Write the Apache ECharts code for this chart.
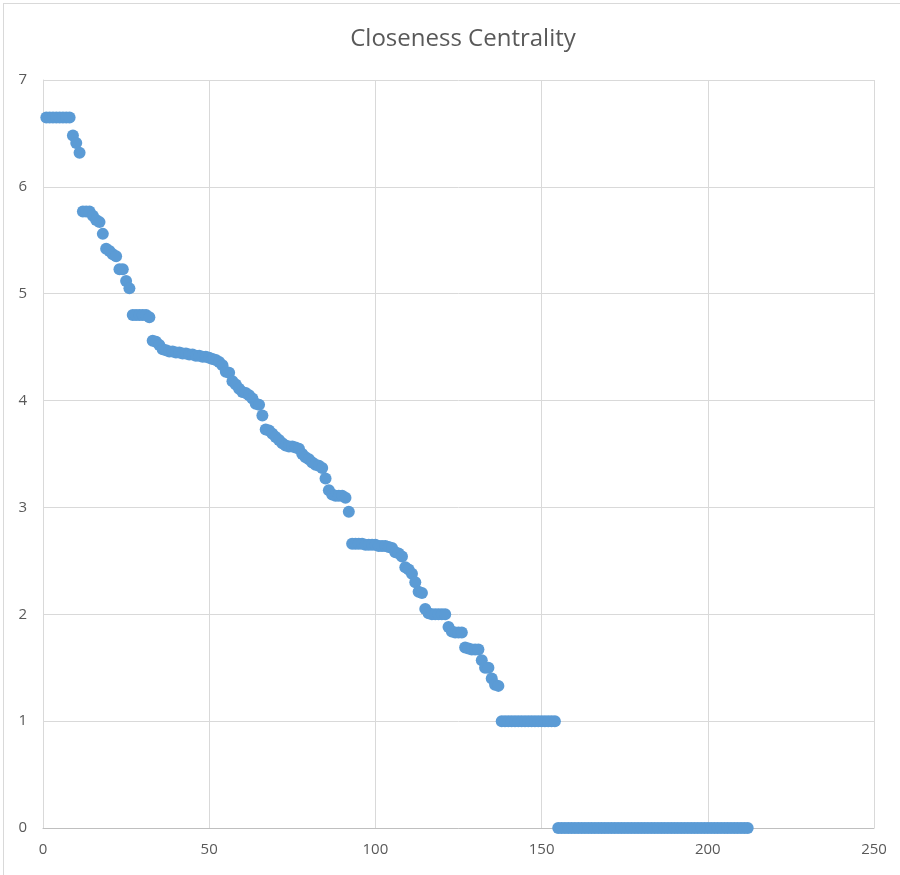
<!DOCTYPE html>
<html>
<head>
<meta charset="utf-8">
<script src="https://cdn.jsdelivr.net/npm/echarts@6/dist/echarts.min.js"></script>
<style>
    body { margin: 0; background: #fff; }
    #frame {
        position: absolute; left: 3px; top: 3px;
        width: 897px; height: 872px;
        border-left: 1px solid #d9d9d9; border-top: 1px solid #d9d9d9;
    }
    #chart { position: absolute; left: 0; top: 0; width: 900px; height: 875px; }
</style>
</head>
<body>
<div id="frame"></div>
<div id="chart"></div>
<script>
// closeness centrality, sorted, node rank 1..212
var closeness = [
    6.65, 6.65, 6.65, 6.65, 6.65, 6.65, 6.65, 6.65,
    6.48, 6.41, 6.32,
    5.77, 5.77, 5.77, 5.73, 5.69, 5.67, 5.56,
    5.42, 5.40, 5.37, 5.35,
    5.23, 5.23, 5.12, 5.05,
    4.80, 4.80, 4.80, 4.80, 4.80, 4.78,
    4.56, 4.55, 4.52, 4.48, 4.47, 4.46, 4.46, 4.45, 4.45, 4.44,
    4.44, 4.43, 4.43, 4.42, 4.42, 4.41, 4.41, 4.40, 4.39, 4.38,
    4.36, 4.33, 4.27, 4.26, 4.18, 4.15, 4.11, 4.08, 4.07, 4.05,
    4.02, 3.97, 3.96, 3.86,
    3.73, 3.72, 3.69, 3.66, 3.63, 3.60, 3.58, 3.57, 3.57, 3.56,
    3.55, 3.50, 3.47, 3.45, 3.42, 3.40, 3.39, 3.37, 3.27, 3.16,
    3.12, 3.11, 3.11, 3.11, 3.09, 2.96,
    2.66, 2.66, 2.66, 2.66, 2.65, 2.65, 2.65, 2.65, 2.64, 2.64,
    2.64, 2.63,
    2.62, 2.58, 2.57, 2.54, 2.44, 2.42, 2.38, 2.30, 2.21, 2.20,
    2.05, 2.01, 2.00, 2.00, 2.00, 2.00, 2.00, 1.88, 1.84, 1.83,
    1.83, 1.83,
    1.69, 1.68, 1.67, 1.67, 1.67, 1.57, 1.50, 1.50, 1.40, 1.34,
    1.33,
    1, 1, 1, 1, 1, 1, 1, 1, 1, 1, 1, 1, 1, 1, 1, 1, 1,
    0, 0, 0, 0, 0, 0, 0, 0, 0, 0, 0, 0, 0, 0, 0, 0, 0, 0, 0, 0,
    0, 0, 0, 0, 0, 0, 0, 0, 0, 0, 0, 0, 0, 0, 0, 0, 0, 0, 0, 0,
    0, 0, 0, 0, 0, 0, 0, 0, 0, 0, 0, 0, 0, 0, 0, 0, 0, 0
];
var xTicks = [0, 50, 100, 150, 200, 250];
var yTicks = [0, 1, 2, 3, 4, 5, 6, 7];

var points = [];
for (var i = 0; i < closeness.length; i++) {
    points.push([i + 1, closeness[i]]);
}

var textColor = '#595959';
var gridColor = '#d9d9d9';

var option = {
    animation: false,
    title: {
        text: 'Closeness Centrality',
        left: 458,
        top: 22,
        textAlign: 'center',
        textStyle: { fontFamily: 'Open Sans', fontSize: 24, fontWeight: 'normal', color: textColor }
    },
    grid: { left: 43, right: 26, top: 80, bottom: 47 },
    xAxis: {
        type: 'value',
        min: xTicks[0],
        max: xTicks[xTicks.length - 1],
        interval: 50,
        axisLine: { show: true, onZero: false, lineStyle: { color: '#bfbfbf', width: 1 } },
        axisTick: { show: false },
        axisLabel: { color: textColor, fontFamily: 'Open Sans', fontSize: 15, margin: 14 },
        splitLine: { show: true, lineStyle: { color: gridColor, width: 1 } }
    },
    yAxis: {
        type: 'value',
        min: yTicks[0],
        max: yTicks[yTicks.length - 1],
        interval: 1,
        axisLine: { show: true, lineStyle: { color: gridColor, width: 1 } },
        axisTick: { show: false },
        axisLabel: { color: textColor, fontFamily: 'Open Sans', fontSize: 15, margin: 16 },
        splitLine: { show: true, lineStyle: { color: gridColor, width: 1 } }
    },
    series: [
        {
            type: 'scatter',
            data: points,
            symbolSize: 12,
            itemStyle: { color: '#5b9bd5', opacity: 1 }
        }
    ]
};

var chart = echarts.init(document.getElementById('chart'));
chart.setOption(option);
</script>
</body>
</html>
